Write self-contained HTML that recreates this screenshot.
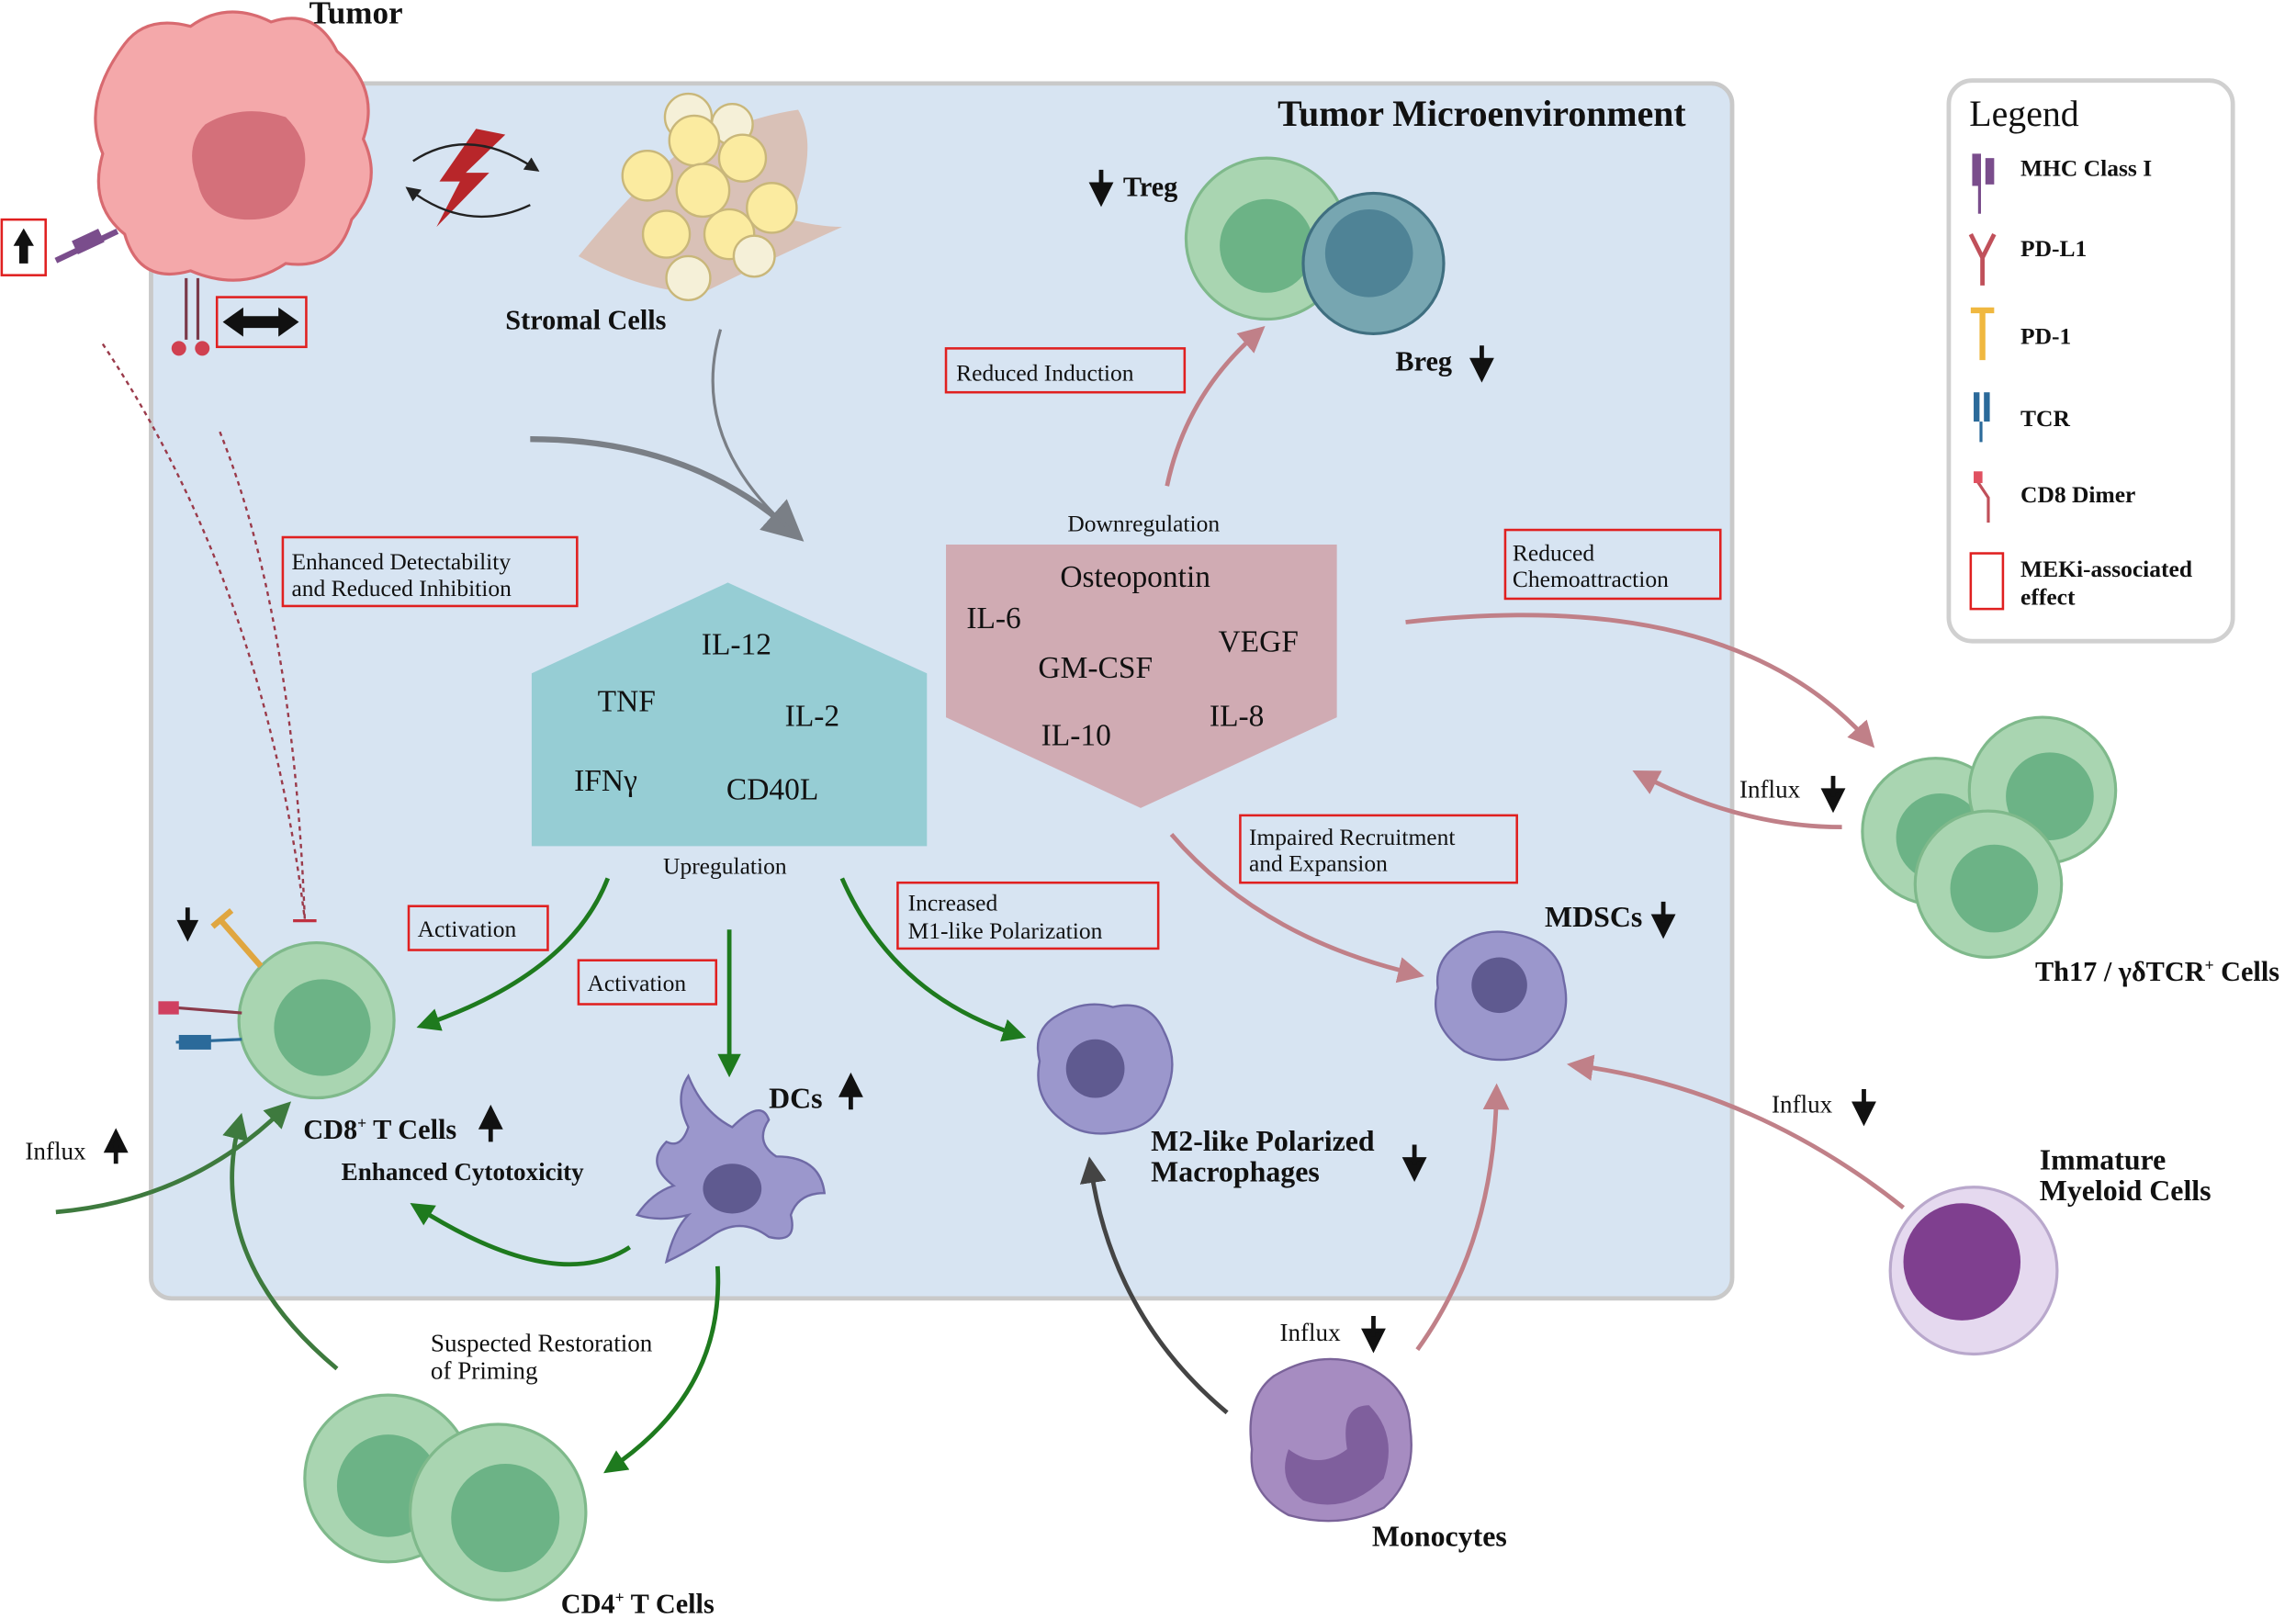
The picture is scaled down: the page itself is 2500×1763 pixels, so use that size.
<!DOCTYPE html>
<html><head><meta charset="utf-8"><style>
html,body{margin:0;padding:0;background:#fff;}
svg{display:block;}
text{font-family:"Liberation Serif",serif;fill:#111;}
.b{font-weight:bold;}
.rb{fill:none;stroke:#e02020;stroke-width:1.6;}
</style></head><body>
<svg width="2500" height="1763" viewBox="0 0 1568 1106" xmlns="http://www.w3.org/2000/svg">
<defs>
<marker id="ag" markerWidth="8" markerHeight="8" refX="5" refY="4" orient="auto" markerUnits="userSpaceOnUse" viewBox="0 0 8 8"><path d="M0,0 L8,4 L0,8 Z" fill="#1e7a1e"/></marker>
<marker id="agb" markerWidth="16" markerHeight="16" refX="10" refY="8" orient="auto" markerUnits="userSpaceOnUse" viewBox="0 0 16 16"><path d="M0,0 L16,8 L0,16 Z" fill="#1e7a1e"/></marker>
<marker id="ap" markerWidth="18" markerHeight="18" refX="10" refY="9" orient="auto" markerUnits="userSpaceOnUse" viewBox="0 0 18 18"><path d="M0,0 L18,9 L0,18 Z" fill="#c08088"/></marker>
<marker id="ak" markerWidth="18" markerHeight="18" refX="10" refY="9" orient="auto" markerUnits="userSpaceOnUse" viewBox="0 0 18 18"><path d="M0,0 L18,9 L0,18 Z" fill="#444"/></marker>
<marker id="agr" markerWidth="28" markerHeight="28" refX="16" refY="14" orient="auto" markerUnits="userSpaceOnUse" viewBox="0 0 28 28"><path d="M0,0 L28,14 L0,28 Z" fill="#7a7f86"/></marker>
<marker id="agd" markerWidth="18" markerHeight="18" refX="10" refY="9" orient="auto" markerUnits="userSpaceOnUse" viewBox="0 0 18 18"><path d="M0,0 L18,9 L0,18 Z" fill="#3e7a3e"/></marker>
<marker id="ak2" markerWidth="10" markerHeight="10" refX="6" refY="5" orient="auto" markerUnits="userSpaceOnUse" viewBox="0 0 10 10"><path d="M0,0 L10,5 L0,10 Z" fill="#222"/></marker>
</defs>

<!-- main panel -->
<rect x="103" y="57" width="1080" height="830" rx="14" fill="#d7e4f2" stroke="#c9c9c9" stroke-width="3"/>
<text x="1012" y="86" font-size="25" class="b" text-anchor="middle">Tumor Microenvironment</text>

<!-- legend -->
<rect x="1331" y="55" width="194" height="383" rx="16" fill="#fff" stroke="#d0d0d0" stroke-width="3"/>
<text x="1345" y="86" font-size="25" fill="#333">Legend</text>
<g font-size="16" class="b">
<text x="1380" y="120">MHC Class I</text>
<text x="1380" y="175">PD-L1</text>
<text x="1380" y="235">PD-1</text>
<text x="1380" y="291">TCR</text>
<text x="1380" y="343">CD8 Dimer</text>
<text x="1380" y="394">MEKi-associated</text>
<text x="1380" y="413">effect</text>
</g>
<rect x="1347" y="105" width="6" height="22" fill="#7a4d8c"/><rect x="1356" y="108" width="6" height="18" fill="#7a4d8c"/><line x1="1352" y1="125" x2="1352" y2="146" stroke="#7a4d8c" stroke-width="2"/>
<path d="M1346,160 L1354,176 L1362,160 M1354,176 L1354,195" fill="none" stroke="#c0505a" stroke-width="3"/>
<path d="M1346,212 L1362,212 M1354,212 L1354,246" fill="none" stroke="#f0b840" stroke-width="4"/>
<rect x="1348" y="268" width="4" height="20" fill="#2b6a9a"/><rect x="1355" y="268" width="4" height="20" fill="#2b6a9a"/><line x1="1353" y1="288" x2="1353" y2="302" stroke="#2b6a9a" stroke-width="2"/>
<path d="M1350,328 L1358,340 L1358,357" fill="none" stroke="#c0505a" stroke-width="2"/><rect x="1348" y="322" width="6" height="8" fill="#e05060"/>
<rect x="1346" y="378" width="22" height="38" class="rb"/>

<!-- tumor -->
<path d="M85,30 Q100,10 130,18 Q155,0 185,15 Q215,5 230,35 Q260,60 248,95 Q262,125 240,150 Q230,185 195,180 Q165,200 130,185 Q95,195 85,160 Q60,140 70,105 Q55,70 85,30Z" fill="#f4a8aa" stroke="#d86a70" stroke-width="2"/>
<path d="M140,85 Q165,70 195,80 Q215,100 205,125 Q200,150 170,150 Q140,150 135,125 Q125,100 140,85Z" fill="#d4707a"/>
<text x="243" y="16" font-size="22" class="b" text-anchor="middle">Tumor</text>
<line x1="127" y1="190" x2="127" y2="232" stroke="#7a3a4a" stroke-width="2"/><line x1="135" y1="190" x2="135" y2="232" stroke="#7a3a4a" stroke-width="2"/>
<circle cx="122" cy="238" r="5" fill="#d04050"/><circle cx="138" cy="238" r="5" fill="#d04050"/>
<rect x="1" y="150" width="30" height="38" class="rb"/>
<path d="M16,156 L9,168 L13,168 L13,180 L19,180 L19,168 L23,168Z" fill="#111"/>
<path d="M38,178 L80,158" stroke="#7a4d8c" stroke-width="4"/><rect x="50" y="160" width="20" height="10" fill="#7a4d8c" transform="rotate(-25 60 165)"/>
<rect x="148" y="203" width="61" height="34" class="rb"/>
<path d="M152,220 L166,210 L166,216 L190,216 L190,210 L204,220 L190,230 L190,224 L166,224 L166,230Z" fill="#111"/>

<!-- lightning + arrows -->
<path d="M325,88 L345,92 L318,118 L334,118 L298,155 L314,124 L300,124Z" fill="#b8262a"/>
<path d="M282,110 Q320,85 365,115" fill="none" stroke="#222" stroke-width="1.5" marker-end="url(#ak2)"/>
<path d="M362,140 Q320,160 280,130" fill="none" stroke="#222" stroke-width="1.5" marker-end="url(#ak2)"/>

<!-- stromal -->
<path d="M395,175 Q440,120 470,100 Q510,80 545,75 Q560,100 540,150 Q560,155 575,155 Q520,180 480,200 Q440,200 395,175Z" fill="#d9b8a8" opacity="0.8"/>
<g fill="#fbeba0" stroke="#c9b77a" stroke-width="1.5">
<circle cx="470" cy="80" r="16" fill="#f5f0d8"/><circle cx="500" cy="85" r="14" fill="#f5f0d8"/>
<circle cx="474" cy="96" r="17"/><circle cx="507" cy="108" r="16"/><circle cx="442" cy="120" r="17"/>
<circle cx="480" cy="130" r="18"/><circle cx="527" cy="142" r="17"/><circle cx="455" cy="160" r="16"/>
<circle cx="498" cy="160" r="17"/><circle cx="470" cy="190" r="15" fill="#f5f0d8"/><circle cx="515" cy="175" r="14" fill="#f5f0d8"/>
</g>
<text x="400" y="225" font-size="19" class="b" text-anchor="middle">Stromal Cells</text>

<!-- grey arrows to center -->
<path d="M362,300 Q470,300 540,362" fill="none" stroke="#7a7f86" stroke-width="4" marker-end="url(#agr)"/>
<path d="M492,225 Q470,300 540,362" fill="none" stroke="#7a7f86" stroke-width="2"/>

<!-- Treg/Breg -->
<circle cx="865" cy="163" r="55" fill="#a9d5b1" stroke="#7fb98b" stroke-width="2"/>
<circle cx="865" cy="168" r="32" fill="#6cb386"/>
<circle cx="938" cy="180" r="48" fill="#77a6b1" stroke="#3f6f80" stroke-width="2"/>
<circle cx="935" cy="173" r="30" fill="#4f8396"/>
<text x="767" y="134" font-size="19" class="b">Treg</text>
<path d="M752,116 L752,130 M746,126 L752,138 L758,126Z" stroke="#111" stroke-width="3" fill="#111"/>
<text x="953" y="253" font-size="19" class="b">Breg</text>
<path d="M1012,236 L1012,250 M1006,246 L1012,258 L1018,246Z" stroke="#111" stroke-width="3" fill="#111"/>
<rect x="646" y="238" width="163" height="30" class="rb"/>
<text x="653" y="260" font-size="16">Reduced Induction</text>
<path d="M797,332 Q810,270 858,228" fill="none" stroke="#c08088" stroke-width="3" marker-end="url(#ap)"/>

<!-- pentagons -->
<polygon points="363,460 497,398 633,460 633,578 363,578" fill="#96cdd4"/>
<g font-size="21"><text x="479" y="447">IL-12</text><text x="408" y="486">TNF</text><text x="536" y="496">IL-2</text><text x="392" y="540">IFNγ</text><text x="496" y="546">CD40L</text></g>
<text x="495" y="597" font-size="16" text-anchor="middle">Upregulation</text>
<polygon points="646,372 913,372 913,490 779,552 646,490" fill="#d0abb3"/>
<g font-size="21"><text x="724" y="401">Osteopontin</text><text x="660" y="429">IL-6</text><text x="832" y="445">VEGF</text><text x="709" y="463">GM-CSF</text><text x="826" y="496">IL-8</text><text x="711" y="509">IL-10</text></g>
<text x="781" y="363" font-size="16" text-anchor="middle">Downregulation</text>

<!-- red boxes -->
<rect x="193" y="367" width="201" height="47" class="rb"/>
<text x="199" y="389" font-size="16">Enhanced Detectability</text><text x="199" y="407" font-size="16">and Reduced Inhibition</text>
<rect x="1028" y="362" width="147" height="47" class="rb"/>
<text x="1033" y="383" font-size="16">Reduced</text><text x="1033" y="401" font-size="16">Chemoattraction</text>
<rect x="847" y="557" width="189" height="46" class="rb"/>
<text x="853" y="577" font-size="16">Impaired Recruitment</text><text x="853" y="595" font-size="16">and Expansion</text>
<rect x="613" y="603" width="178" height="45" class="rb"/>
<text x="620" y="622" font-size="16">Increased</text><text x="620" y="641" font-size="16">M1-like Polarization</text>
<rect x="279" y="619" width="95" height="30" class="rb"/><text x="285" y="640" font-size="16">Activation</text>
<rect x="395" y="656" width="94" height="30" class="rb"/><text x="401" y="677" font-size="16">Activation</text>

<!-- dotted inhibition lines -->
<path d="M70,235 Q180,400 208,628" fill="none" stroke="#9a3a4a" stroke-width="1.5" stroke-dasharray="3,3"/>
<path d="M150,295 Q200,420 208,628" fill="none" stroke="#9a3a4a" stroke-width="1.5" stroke-dasharray="3,3"/>
<line x1="200" y1="629" x2="216" y2="629" stroke="#c03040" stroke-width="2"/>

<!-- CD8 -->
<circle cx="216" cy="697" r="53" fill="#a9d5b1" stroke="#7fb98b" stroke-width="2"/>
<circle cx="220" cy="702" r="33" fill="#6cb386"/>
<path d="M150,628 L178,660" stroke="#e0a640" stroke-width="4"/><line x1="145" y1="633" x2="158" y2="622" stroke="#e0a640" stroke-width="4"/>
<path d="M128,620 L128,633 M123,630 L128,640 L133,630Z" stroke="#111" stroke-width="3" fill="#111"/>
<line x1="115" y1="688" x2="165" y2="692" stroke="#8a3a4a" stroke-width="2"/><rect x="108" y="684" width="14" height="9" fill="#d04060"/>
<line x1="120" y1="712" x2="165" y2="710" stroke="#2b6a9a" stroke-width="2"/><rect x="122" y="707" width="22" height="10" fill="#2b6a9a"/>
<text x="207" y="778" font-size="19" class="b">CD8<tspan font-size="11" dy="-7">+</tspan><tspan dy="7"> T Cells</tspan></text>
<path d="M335,780 L335,766 M329,770 L335,758 L341,770Z" stroke="#111" stroke-width="3" fill="#111"/>
<text x="233" y="806" font-size="17" class="b">Enhanced Cytotoxicity</text>
<text x="17" y="792" font-size="17">Influx</text>
<path d="M79,795 L79,782 M73,786 L79,774 L85,786Z" stroke="#111" stroke-width="3" fill="#111"/>

<!-- green arrows -->
<path d="M415,600 Q390,665 290,700" fill="none" stroke="#1e7a1e" stroke-width="3" marker-end="url(#agb)"/>
<path d="M498,635 L498,730" fill="none" stroke="#1e7a1e" stroke-width="3" marker-end="url(#agb)"/>
<path d="M575,600 Q610,680 695,707" fill="none" stroke="#1e7a1e" stroke-width="3" marker-end="url(#agb)"/>
<path d="M430,852 Q380,885 285,825" fill="none" stroke="#1e7a1e" stroke-width="3" marker-end="url(#agb)"/>
<path d="M490,865 Q495,950 417,1003" fill="none" stroke="#1e7a1e" stroke-width="3" marker-end="url(#agb)"/>
<path d="M38,828 Q130,820 193,758" fill="none" stroke="#3e7a3e" stroke-width="3" marker-end="url(#agd)"/>
<path d="M230,935 Q140,860 163,768" fill="none" stroke="#3e7a3e" stroke-width="3" marker-end="url(#agd)"/>

<!-- DC -->
<path d="M470,770 Q460,750 470,735 Q480,760 500,770 Q520,750 525,765 Q515,780 530,790 Q560,790 563,815 Q545,815 540,830 Q545,850 525,845 Q505,830 485,845 Q470,855 455,862 Q460,840 470,830 Q450,835 435,830 Q445,815 460,810 Q440,795 455,780 Q465,785 470,770Z" fill="#9b97cc" stroke="#6f6aa6" stroke-width="1.5"/>
<ellipse cx="500" cy="812" rx="20" ry="17" fill="#5f5a90"/>
<text x="525" y="757" font-size="20" class="b">DCs</text>
<path d="M581,758 L581,744 M575,748 L581,736 L587,748Z" stroke="#111" stroke-width="3" fill="#111"/>

<!-- M2 -->
<path d="M720,695 Q740,682 760,688 Q785,682 795,705 Q805,725 797,745 Q790,770 765,773 Q740,778 725,765 Q705,750 710,725 Q705,705 720,695Z" fill="#9b97cc" stroke="#6f6aa6" stroke-width="1.5"/>
<circle cx="748" cy="730" r="20" fill="#5f5a90"/>
<text x="786" y="786" font-size="20" class="b">M2-like Polarized</text>
<text x="786" y="807" font-size="20" class="b">Macrophages</text>
<path d="M966,782 L966,796 M960,792 L966,804 L972,792Z" stroke="#111" stroke-width="3" fill="#111"/>

<!-- MDSC -->
<path d="M990,650 Q1010,632 1035,638 Q1065,645 1068,670 Q1075,700 1050,718 Q1025,730 1000,718 Q975,700 982,675 Q980,660 990,650Z" fill="#9b97cc" stroke="#6f6aa6" stroke-width="1.5"/>
<circle cx="1024" cy="673" r="19" fill="#5f5a90"/>
<text x="1055" y="633" font-size="20" class="b">MDSCs</text>
<path d="M1136,616 L1136,630 M1130,626 L1136,638 L1142,626Z" stroke="#111" stroke-width="3" fill="#111"/>
<path d="M800,570 Q860,640 965,665" fill="none" stroke="#c08088" stroke-width="3" marker-end="url(#ap)"/>
<path d="M960,425 Q1180,400 1275,505" fill="none" stroke="#c08088" stroke-width="3" marker-end="url(#ap)"/>
<path d="M1258,565 Q1190,565 1122,530" fill="none" stroke="#c08088" stroke-width="3" marker-end="url(#ap)"/>
<path d="M1300,825 Q1200,745 1078,728" fill="none" stroke="#c08088" stroke-width="3" marker-end="url(#ap)"/>
<path d="M968,922 Q1020,850 1022,748" fill="none" stroke="#c08088" stroke-width="3" marker-end="url(#ap)"/>
<path d="M838,965 Q760,900 745,798" fill="none" stroke="#444" stroke-width="3" marker-end="url(#ak)"/>

<!-- Th17 -->
<circle cx="1322" cy="568" r="50" fill="#a9d5b1" stroke="#7fb98b" stroke-width="2"/><circle cx="1325" cy="572" r="30" fill="#6cb386"/>
<circle cx="1395" cy="540" r="50" fill="#a9d5b1" stroke="#7fb98b" stroke-width="2"/><circle cx="1400" cy="544" r="30" fill="#6cb386"/>
<circle cx="1358" cy="604" r="50" fill="#a9d5b1" stroke="#7fb98b" stroke-width="2"/><circle cx="1362" cy="607" r="30" fill="#6cb386"/>
<text x="1390" y="670" font-size="19" class="b">Th17 / γδTCR<tspan font-size="11" dy="-7">+</tspan><tspan dy="7"> Cells</tspan></text>
<text x="1188" y="545" font-size="17">Influx</text>
<path d="M1252,530 L1252,544 M1246,540 L1252,552 L1258,540Z" stroke="#111" stroke-width="3" fill="#111"/>

<!-- immature myeloid -->
<circle cx="1348" cy="868" r="57" fill="#e5d9ef" stroke="#b9a8cc" stroke-width="2"/>
<circle cx="1340" cy="862" r="40" fill="#7f3f8f"/>
<text x="1393" y="799" font-size="20" class="b">Immature</text>
<text x="1393" y="820" font-size="20" class="b">Myeloid Cells</text>
<text x="1210" y="760" font-size="17">Influx</text>
<path d="M1273,744 L1273,758 M1267,754 L1273,766 L1279,754Z" stroke="#111" stroke-width="3" fill="#111"/>

<!-- monocyte -->
<path d="M870,940 Q900,922 930,932 Q962,945 963,975 Q968,1010 945,1030 Q915,1045 880,1035 Q852,1020 855,990 Q850,955 870,940Z" fill="#a68cc1" stroke="#7a6399" stroke-width="1.5"/>
<path d="M880,990 Q900,1005 920,990 Q915,960 935,960 Q955,980 945,1010 Q920,1035 890,1025 Q872,1012 880,990Z" fill="#7f5f9d"/>
<text x="937" y="1056" font-size="20" class="b">Monocytes</text>
<text x="874" y="916" font-size="17">Influx</text>
<path d="M938,899 L938,913 M932,909 L938,921 L944,909Z" stroke="#111" stroke-width="3" fill="#111"/>

<!-- CD4 -->
<circle cx="265" cy="1010" r="57" fill="#a9d5b1" stroke="#7fb98b" stroke-width="2"/><circle cx="265" cy="1015" r="35" fill="#6cb386"/>
<circle cx="340" cy="1033" r="60" fill="#a9d5b1" stroke="#7fb98b" stroke-width="2"/><circle cx="345" cy="1037" r="37" fill="#6cb386"/>
<text x="383" y="1102" font-size="19" class="b">CD4<tspan font-size="11" dy="-7">+</tspan><tspan dy="7"> T Cells</tspan></text>
<text x="294" y="923" font-size="17">Suspected Restoration</text>
<text x="294" y="942" font-size="17">of Priming</text>
</svg>
</body></html>
